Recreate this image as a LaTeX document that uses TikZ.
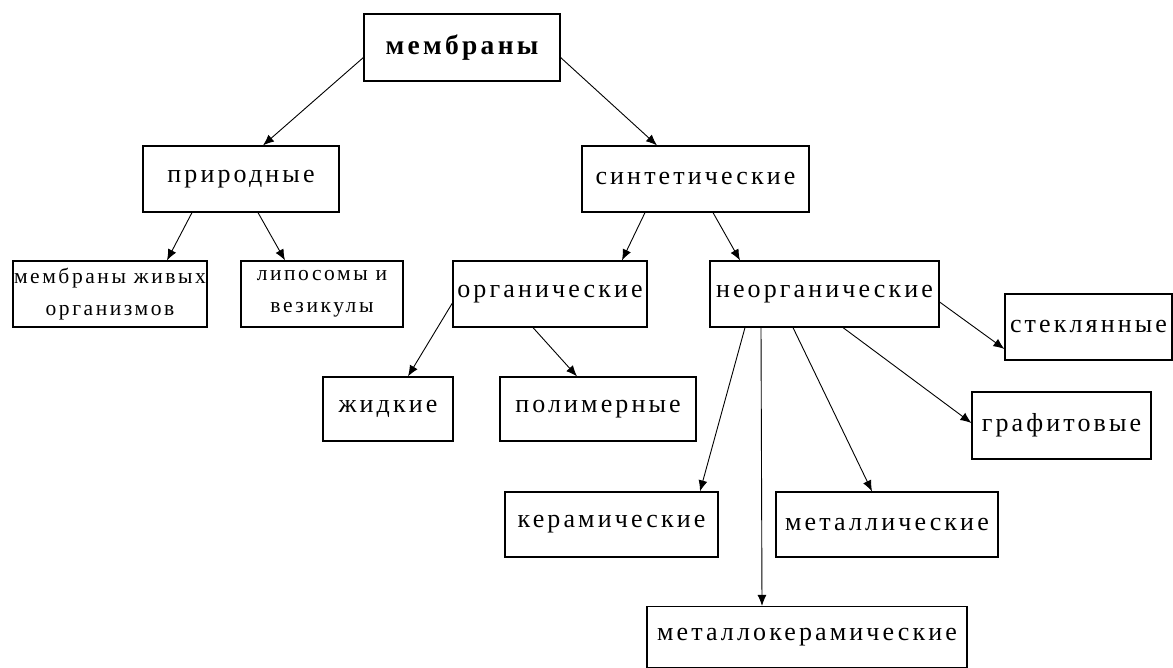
\documentclass[tikz,border=0pt]{standalone}
\usepackage{fontspec}
\setmainfont{Liberation Serif}[LetterSpace=12]
\usepackage{tikz}
\usetikzlibrary{arrows.meta}

\begin{document}
\begin{tikzpicture}[x=1pt,y=-1pt,
    box/.style={draw,line width=1.2pt,inner sep=0pt,font=\fontsize{26}{30}\selectfont},
    small/.style={box,align=center,font=\fontsize{21.5}{32}\selectfont},
    arr/.style={-{Latex[length=11pt,width=9pt]},line width=0.9pt}]
  \useasboundingbox (0,0) rectangle (1173,668);
  \node[box,minimum width=196pt,minimum height=67pt,font=\fontsize{27.5}{30}\selectfont\bfseries](membr) at (462,47.5){мембраны};
  \node[box,minimum width=196pt,minimum height=66pt](prir) at (241,179){природные};
  \node[box,minimum width=227pt,minimum height=66pt](sint) at (695.5,179){синтетические};
  \node[small,minimum width=194pt,minimum height=66pt](zhiv) at (110,294){мембраны живых\\организмов};
  \node[small,minimum width=162pt,minimum height=66pt](lipo) at (322,294){липосомы и\\везикулы};
  \node[box,minimum width=194pt,minimum height=66pt](org) at (550,294){органические};
  \node[box,minimum width=229pt,minimum height=66pt](neorg) at (824.5,294){неорганические};
  \node[box,minimum width=167pt,minimum height=66pt](stekl) at (1088.5,327){стеклянные};
  \node[box,minimum width=130pt,minimum height=64pt](zhidk) at (388,409){жидкие};
  \node[box,minimum width=196pt,minimum height=64pt](polim) at (598,409){полимерные};
  \node[box,minimum width=179pt,minimum height=67pt](grafit) at (1061.5,425.5){графитовые};
  \node[box,minimum width=213pt,minimum height=65pt](keram) at (611.5,524.5){керамические};
  \node[box,minimum width=222pt,minimum height=65pt](metal) at (887,524.5){металлические};
  \node[box,minimum width=320pt,minimum height=61pt](metker) at (807,637){металлокерамические};

  \draw[arr] ([yshift=-10pt]membr.west) -- ([xshift=22pt]prir.north);
  \draw[arr] ([yshift=-10pt]membr.east) -- ([xshift=-38.5pt]sint.north);
  \draw[arr] ([xshift=-49pt]prir.south) -- ([xshift=57pt]zhiv.north);
  \draw[arr] ([xshift=17pt]prir.south) -- ([xshift=-37pt]lipo.north);
  \draw[arr] ([xshift=-50.5pt]sint.south) -- ([xshift=72pt]org.north);
  \draw[arr] ([xshift=17.5pt]sint.south) -- ([xshift=-84.5pt]neorg.north);
  \draw[arr] ([yshift=-9pt]org.west) -- ([xshift=20pt]zhidk.north);
  \draw[arr] ([xshift=-17pt]org.south) -- ([xshift=-21pt]polim.north);
  \draw[arr] ([yshift=-8pt]neorg.east) -- ([yshift=-22pt]stekl.west);
  \draw[arr] ([xshift=18.5pt]neorg.south) -- ([yshift=2.5pt]grafit.west);
  \draw[arr] ([xshift=-79.5pt]neorg.south) -- ([xshift=88.5pt]keram.north);
  \draw[arr] ([xshift=-63.5pt]neorg.south) -- ([xshift=-45pt]metker.north);
  \draw[arr] ([xshift=-31.5pt]neorg.south) -- ([xshift=-15pt]metal.north);
\end{tikzpicture}
\end{document}
